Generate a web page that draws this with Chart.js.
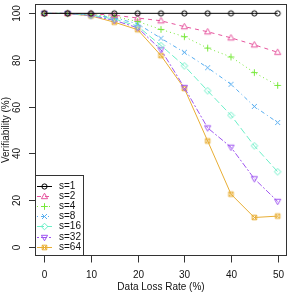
<!DOCTYPE html>
<html><head><meta charset="utf-8">
<script src="https://cdn.jsdelivr.net/npm/chart.js@4.4.1/dist/chart.umd.min.js"></script>
<style>html,body{margin:0;padding:0;background:#fff;}</style>
</head><body>
<canvas id="c" width="291" height="295" style="width:291px;height:295px;display:block"></canvas>
<script>
const lossRates = [0, 5, 10, 15, 20, 25, 30, 35, 40, 45, 50];
const s1  = [100, 100, 100, 100, 100, 100, 100, 100, 100, 100, 100];
const s2  = [100, 100, 99.8, 99.2, 98.0, 96.8, 94.3, 92.1, 89.5, 86.5, 83.3];
const s4  = [100, 100, 99.6, 98.6, 96.5, 93.1, 90.0, 85.1, 81.3, 74.6, 69.1];
const s8  = [100, 100, 99.4, 98.1, 95.5, 89.3, 83.3, 76.7, 69.6, 60.1, 53.2];
const s16 = [100, 100, 99.2, 97.6, 94.5, 86.2, 77.5, 66.8, 56.3, 43.2, 32.1];
const s32 = [100, 99.9, 99.0, 97.0, 93.8, 84.4, 68.2, 50.9, 42.6, 29.1, 19.4];
const s64 = [100, 99.9, 98.9, 96.2, 93.0, 81.9, 67.8, 45.3, 22.5, 12.5, 13.1];
const seriesLabels = ["s=1", "s=2", "s=4", "s=8", "s=16", "s=32", "s=64"];
const xTicks = [0, 10, 20, 30, 40, 50];
const yTicks = [0, 20, 40, 60, 80, 100];
const xTitle = "Data Loss Rate (%)";
const yTitle = "Verifiability (%)";

const seriesValues = [s1, s2, s4, s8, s16, s32, s64];
const colors = ["#000000", "#e6559e", "#77e83a", "#58aef0", "#6cefc8", "#9f55f0", "#e8ae35"];
const dashes = [[], [4, 4], [1, 3], [1, 3, 4, 3], [7, 3], [2, 2, 6, 2], []];
const shapes = ["circle", "tri", "plus", "x", "diamond", "dtri", "boxx"];

function marker(shape, color) {
  const c = document.createElement('canvas');
  c.width = 9; c.height = 9;
  const g = c.getContext('2d');
  g.strokeStyle = color; g.lineWidth = 1;
  const m = 4.5;
  g.beginPath();
  if (shape === "circle") { g.arc(m, m, 2.6, 0, Math.PI * 2); }
  else if (shape === "tri") { g.moveTo(m, m - 3.3); g.lineTo(m + 3.1, m + 2.2); g.lineTo(m - 3.1, m + 2.2); g.closePath(); }
  else if (shape === "dtri") { g.moveTo(m, m + 3.3); g.lineTo(m + 3.1, m - 2.2); g.lineTo(m - 3.1, m - 2.2); g.closePath(); }
  else if (shape === "plus") { g.moveTo(m - 3.3, m); g.lineTo(m + 3.3, m); g.moveTo(m, m - 3.3); g.lineTo(m, m + 3.3); }
  else if (shape === "x") { g.moveTo(m - 2.5, m - 2.5); g.lineTo(m + 2.5, m + 2.5); g.moveTo(m + 2.5, m - 2.5); g.lineTo(m - 2.5, m + 2.5); }
  else if (shape === "diamond") { g.moveTo(m, m - 3.3); g.lineTo(m + 3.3, m); g.lineTo(m, m + 3.3); g.lineTo(m - 3.3, m); g.closePath(); }
  else if (shape === "boxx") { g.rect(m - 2.3, m - 2.3, 4.6, 4.6); g.moveTo(m - 2.3, m - 2.3); g.lineTo(m + 2.3, m + 2.3); g.moveTo(m + 2.3, m - 2.3); g.lineTo(m - 2.3, m + 2.3); }
  g.stroke();
  return c;
}

const datasets = seriesValues.map((vals, i) => ({
  label: seriesLabels[i],
  data: vals.map((v, j) => ({ x: lossRates[j], y: v })),
  borderColor: colors[i],
  backgroundColor: 'rgba(0,0,0,0)',
  borderWidth: 1,
  borderDash: dashes[i],
  pointStyle: marker(shapes[i], colors[i]),
  pointRadius: 3,
  pointHoverRadius: 3,
  tension: 0,
  fill: false
}));

const FONT = '10px "Liberation Sans", Arial, sans-serif';
const AXC = '#333333';

const decor = {
  id: 'decor',
  afterDraw(chart) {
    const ctx = chart.ctx, a = chart.chartArea;
    const xs = chart.scales.x, ys = chart.scales.y;
    ctx.save();
    ctx.strokeStyle = AXC; ctx.lineWidth = 1; ctx.setLineDash([]);
    ctx.strokeRect(a.left + 0.5, a.top + 0.5, a.right - a.left - 1, a.bottom - a.top - 1);
    ctx.font = FONT; ctx.fillStyle = '#111';
    // x ticks
    ctx.textAlign = 'center'; ctx.textBaseline = 'middle';
    xTicks.forEach(t => {
      const px = Math.round(xs.getPixelForValue(t)) + 0.5;
      ctx.beginPath(); ctx.moveTo(px, a.bottom - 0.5); ctx.lineTo(px, a.bottom + 6.5); ctx.stroke();
      ctx.fillText(String(t), px, 275);
    });
    ctx.fillText(xTitle, (xs.getPixelForValue(0) + xs.getPixelForValue(50)) / 2, 287);
    // y ticks
    yTicks.forEach(t => {
      const py = Math.round(ys.getPixelForValue(t)) + 0.5;
      ctx.beginPath(); ctx.moveTo(a.left + 0.5, py); ctx.lineTo(a.left - 6, py); ctx.stroke();
      ctx.save(); ctx.translate(17.5, py); ctx.rotate(-Math.PI / 2);
      ctx.fillText(String(t), 0, 0); ctx.restore();
    });
    ctx.save(); ctx.translate(6.5, (ys.getPixelForValue(0) + ys.getPixelForValue(100)) / 2); ctx.rotate(-Math.PI / 2);
    ctx.fillText(yTitle, 0, 0); ctx.restore();
    // legend
    const lx = a.left, ly = 175, lw = 48, lh = a.bottom - ly;
    ctx.fillStyle = '#fff';
    ctx.fillRect(lx, ly, lw, lh);
    ctx.strokeStyle = AXC;
    ctx.strokeRect(lx + 0.5, ly + 0.5, lw, lh - 1);
    chart.data.datasets.forEach((d, i) => {
      const y = Math.round(185.7 + i * 10.17) + 0.5;
      ctx.strokeStyle = d.borderColor; ctx.setLineDash(d.borderDash);
      ctx.beginPath(); ctx.moveTo(37, y); ctx.lineTo(52, y); ctx.stroke();
      ctx.setLineDash([]);
      ctx.drawImage(d.pointStyle, 44.5 - 4.5, y - 4.5);
      ctx.fillStyle = '#111'; ctx.textAlign = 'left'; ctx.textBaseline = 'middle';
      ctx.fillText(d.label, 59, y);
    });
    ctx.restore();
  }
};

new Chart(document.getElementById('c'), {
  type: 'line',
  data: { datasets },
  options: {
    responsive: false,
    animation: false,
    devicePixelRatio: 1,
    layout: { padding: { left: 35, right: 1, top: 0, bottom: 39 } },
    plugins: { legend: { display: false }, tooltip: { enabled: false } },
    scales: {
      x: { type: 'linear', min: -2, max: 52, display: false },
      y: { type: 'linear', min: -4, max: 104, display: false }
    }
  },
  plugins: [decor]
});
</script>
</body></html>
